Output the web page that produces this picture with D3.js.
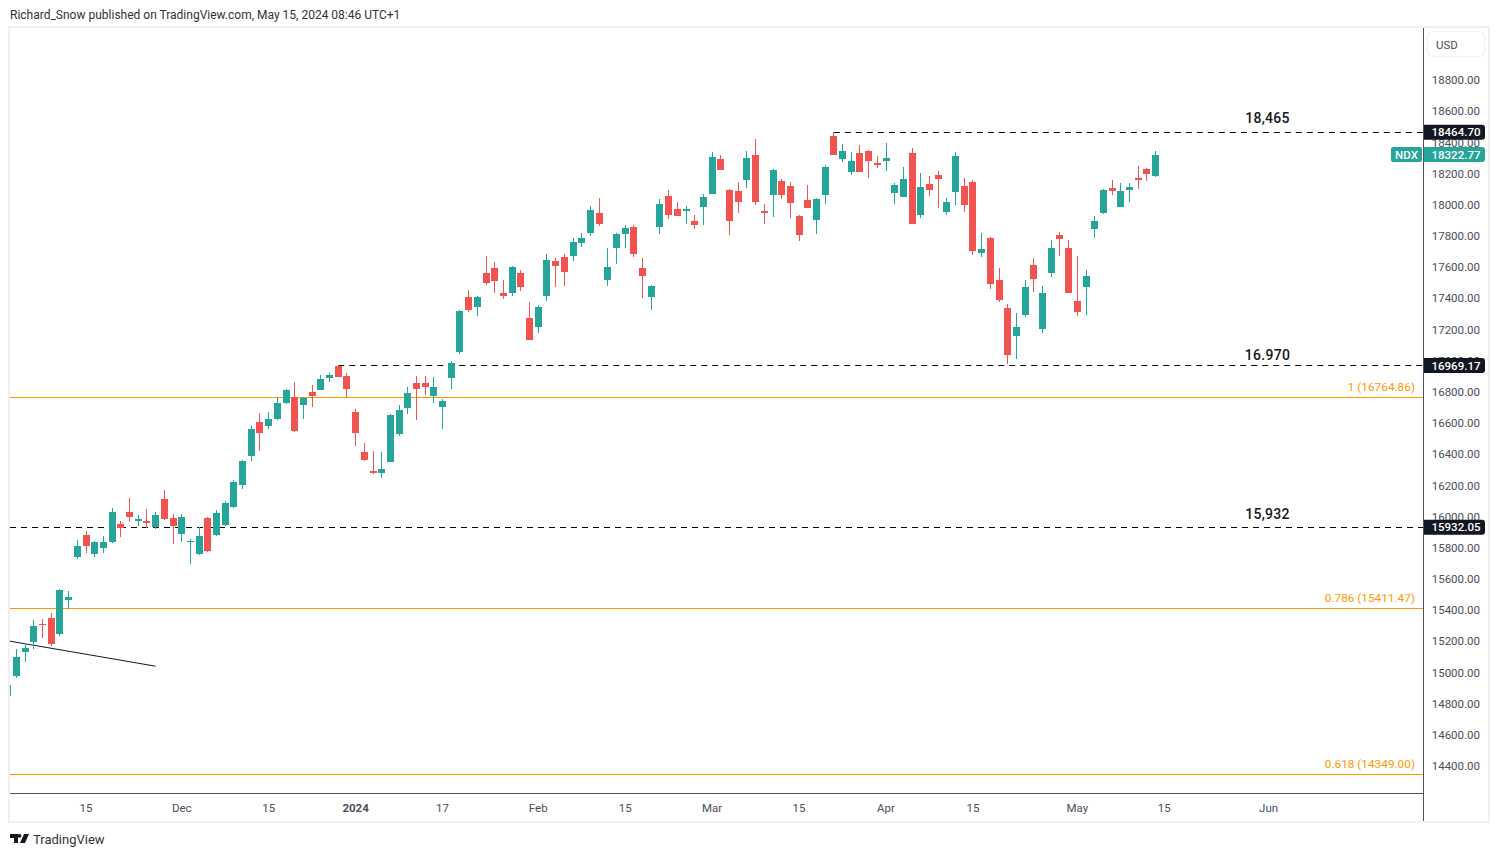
<!DOCTYPE html>
<html>
<head>
<meta charset="utf-8">
<script src="https://cdn.jsdelivr.net/npm/d3@7"></script>
<style>
  html, body { margin: 0; padding: 0; background: #fff; }
  svg { display: block; }
  text { font-family: Roboto, "Noto Sans", sans-serif; }
</style>
</head>
<body>
<div id="chart-area"></div>
<script>
/*
*    NDX daily candles, Nov 2023 - May 2024
*/

// bar number of the first entry; bars are trading days, not calendar days
const firstBar = -1

const opens = [14847,14976,15130,15194,15309,15348,15245,15464,15740,15881,15759,15798,15836,15951,16028,15971,15971,15932,16112,15990,15887,15836,15759,15990,15881,15945,16060,16202,16388,16606,16580,16625,16728,16766,16715,16799,16812,16889,16966,16902,16670,16414,16292,16279,16350,16529,16696,16857,16857,16773,16702,16889,17055,17408,17344,17563,17595,17434,17434,17563,17274,17216,17415,17640,17665,17672,17755,17819,17947,17518,17723,17813,17858,17595,17408,17858,18057,17973,17960,17896,17986,18069,18294,18095,18089,18159,18320,17960,18063,18153,18121,17928,18031,17903,18063,18441,18294,18211,18333,18345,18268,18281,18076,18050,18333,17935,18134,18191,17954,18082,18121,18146,17691,17787,17518,17338,17158,17293,17614,17203,17563,17806,17723,17383,17473,17845,17947,18108,17986,18095,18172,18230,18185]
const highs = [14918,15149,15188,15335,15341,15380,15534,15522,15849,15907,15843,15875,16054,15971,16118,16009,16047,16028,16170,16015,16015,15855,15932,15995,16041,16099,16234,16360,16580,16664,16670,16766,16815,16863,16766,16844,16908,16921,16970,16921,16690,16472,16420,16414,16657,16715,16831,16902,16902,16895,16754,16998,17322,17453,17415,17672,17633,17518,17607,17582,17376,17357,17684,17659,17684,17787,17819,17992,18043,17723,17819,17871,17871,17659,17485,18037,18095,18018,17992,17935,18069,18339,18320,18101,18146,18345,18422,18005,18230,18165,18146,17935,18127,18043,18255,18467,18390,18339,18384,18348,18313,18397,18140,18243,18364,18204,18185,18217,18043,18339,18172,18159,17819,17793,17595,17363,17306,17518,17659,17479,17774,17826,17774,17672,17582,17928,18101,18159,18140,18140,18249,18236,18345]
const lows = [14847,14963,15066,15149,15220,15168,15232,15406,15727,15765,15740,15765,15830,15868,15964,15939,15926,15919,15977,15823,15836,15695,15755,15775,15875,15939,16056,16176,16356,16420,16561,16622,16725,16545,16625,16702,16809,16863,16892,16760,16453,16356,16276,16247,16347,16516,16657,16619,16779,16728,16561,16818,17043,17312,17286,17485,17434,17396,17415,17447,17130,17177,17383,17473,17479,17640,17729,17800,17864,17479,17620,17723,17665,17402,17325,17813,17909,17925,17877,17845,17871,18066,18220,17806,17947,18108,17999,17877,17922,18037,17915,17768,17977,17813,18005,18317,18275,18191,18208,18172,18236,18217,18005,18047,17874,17915,18057,17980,17935,17999,17954,17678,17665,17460,17376,16978,17010,17280,17441,17177,17537,17672,17431,17286,17293,17787,17941,18063,17983,18018,18101,18153,18178]
const closes = [14918,15098,15156,15297,15303,15181,15528,15483,15810,15810,15836,15836,16028,15926,15996,15983,15958,16009,15983,15939,15996,15843,15875,15778,16022,16086,16221,16356,16561,16536,16625,16728,16812,16548,16760,16773,16882,16908,16895,16818,16536,16362,16279,16305,16651,16683,16792,16818,16831,16831,16741,16985,17318,17325,17408,17498,17511,17415,17601,17473,17133,17344,17646,17607,17569,17761,17787,17967,17877,17601,17813,17851,17684,17543,17479,18005,17935,17928,17973,17871,18050,18307,18223,17896,18018,18300,18018,17947,18223,18063,18012,17806,17980,18037,18243,18320,18345,18281,18211,18281,18255,18300,18127,18165,17877,18114,18095,18165,18018,18313,17999,17703,17716,17492,17389,17036,17216,17473,17524,17434,17723,17780,17434,17312,17543,17896,18095,18089,18089,18114,18159,18198,18322]

// price axis
const priceTicks = d3.range(14400, 18801, 200)

// time axis, bar number and label
const timeTickBars = [8, 19, 29, 39, 49, 60, 70, 80, 90, 100, 110, 122, 132, 144]
const timeTickLabels = ["15", "Dec", "15", "2024", "17", "Feb", "15", "Mar", "15", "Apr", "15", "May", "15", "Jun"]

// fibonacci levels
const fibLevels = [16764.86, 15411.47, 14349.00]
const fibLabels = ["1 (16764.86)", "0.786 (15411.47)", "0.618 (14349.00)"]

// support and resistance, starting bar of each dashed line
const srLevels = [18464.70, 16969.17, 15932.05]
const srStartBars = [94, 37, -1]
const srNotes = ["18,465", "16.970", "15,932"]
const srTags = ["18464.70", "16969.17", "15932.05"]

// trend line
const trendBars = [-1, 16]
const trendPrices = [15203, 15040]

const lastPrice = 18322.77
const lastLabel = "18322.77"

const WIDTH = 1499
const HEIGHT = 857
const PLOT = { LEFT: 10, RIGHT: 1423, TOP: 28, BOTTOM: 793 }

// the hand-placed notes sit at different heights above their lines
const NOTE_LIFT = [9.5, 5.5, 8]

const UP = "#26a69a"
const DOWN = "#f05350"
const ORANGE = "#ff9800"
const AXIS_TEXT = "#4a4e59"

const svg = d3.select("#chart-area").append("svg")
  .attr("width", WIDTH)
  .attr("height", HEIGHT)

// Scales
const x = d3.scaleLinear().domain([0, 131]).range([16.5, 1155.6])
const y = d3.scaleLinear().domain([14400, 18800]).range([766, 80])

// Outer frame
svg.append("rect")
  .attr("x", 9).attr("y", 27)
  .attr("width", 1480).attr("height", 795)
  .attr("fill", "none")
  .attr("stroke", "#eef0f5")
  .attr("stroke-width", 2)

svg.append("clipPath").attr("id", "plot-clip").append("rect")
  .attr("x", PLOT.LEFT).attr("y", PLOT.TOP)
  .attr("width", PLOT.RIGHT - PLOT.LEFT).attr("height", PLOT.BOTTOM - PLOT.TOP)

const plot = svg.append("g").attr("clip-path", "url(#plot-clip)")

// Fibonacci levels
plot.selectAll(".fib").data(fibLevels).enter().append("line")
  .attr("class", "fib")
  .attr("x1", PLOT.LEFT).attr("x2", PLOT.RIGHT)
  .attr("y1", d => Math.round(y(d)) + 0.5).attr("y2", d => Math.round(y(d)) + 0.5)
  .attr("stroke", ORANGE)

svg.selectAll(".fib-label").data(fibLevels).enter().append("text")
  .attr("class", "fib-label")
  .attr("x", 1415)
  .attr("y", d => y(d) - 6)
  .attr("text-anchor", "end")
  .attr("font-size", "11.8px")
  .attr("fill", ORANGE)
  .text((d, i) => fibLabels[i])

// Dashed levels
plot.selectAll(".sr").data(srLevels).enter().append("line")
  .attr("class", "sr")
  .attr("x1", (d, i) => i === 2 ? PLOT.LEFT : x(srStartBars[i]))
  .attr("x2", PLOT.RIGHT)
  .attr("y1", d => Math.round(y(d)) + 0.5).attr("y2", d => Math.round(y(d)) + 0.5)
  .attr("stroke", "#000")
  .attr("stroke-dasharray", "6,5")

svg.selectAll(".sr-note").data(srLevels).enter().append("text")
  .attr("class", "sr-note")
  .attr("x", 1267.5)
  .attr("y", (d, i) => y(d) - NOTE_LIFT[i])
  .attr("text-anchor", "middle")
  .attr("font-size", "14px")
  .attr("letter-spacing", "0.3px")
  .attr("font-weight", 500)
  .attr("fill", "#131722")
  .text((d, i) => srNotes[i])

// Trend line
plot.append("line")
  .attr("x1", x(trendBars[0])).attr("y1", y(trendPrices[0]))
  .attr("x2", x(trendBars[1])).attr("y2", y(trendPrices[1]))
  .attr("stroke", "#131722")
  .attr("stroke-width", 1)

// Candles
const bars = opens.map((d, i) => ({
  bar: firstBar + i, open: d, high: highs[i], low: lows[i], close: closes[i]
}))

const candles = plot.selectAll(".candle").data(bars).enter().append("g")
  .attr("class", "candle")
  .attr("fill", d => d.close >= d.open ? UP : DOWN)
  .attr("shape-rendering", "crispEdges")

candles.append("rect")
  .attr("x", d => Math.floor(x(d.bar)))
  .attr("width", 1)
  .attr("y", d => y(d.high))
  .attr("height", d => y(d.low) - y(d.high))

candles.append("rect")
  .attr("x", d => Math.floor(x(d.bar)) - 3)
  .attr("width", 7)
  .attr("y", d => y(Math.max(d.open, d.close)))
  .attr("height", d => Math.max(1, Math.abs(y(d.open) - y(d.close))))

// Axis borders
svg.append("line")
  .attr("x1", PLOT.RIGHT + 0.5).attr("x2", PLOT.RIGHT + 0.5)
  .attr("y1", PLOT.TOP).attr("y2", 821)
  .attr("stroke", "#50535e")
svg.append("line")
  .attr("x1", PLOT.LEFT).attr("x2", PLOT.RIGHT)
  .attr("y1", PLOT.BOTTOM + 0.5).attr("y2", PLOT.BOTTOM + 0.5)
  .attr("stroke", "#50535e")

// Y Axis
const yAxisCall = d3.axisRight(y)
  .tickValues(priceTicks)
  .tickSize(0)
  .tickFormat(d3.format(".2f"))
const yAxis = svg.append("g")
  .attr("transform", `translate(${PLOT.RIGHT}, 0)`)
  .call(yAxisCall)
yAxis.select(".domain").remove()
yAxis.selectAll("text")
  .attr("x", 57)
  .attr("text-anchor", "end")
  .attr("font-size", "11.5px")
  .attr("font-family", "Roboto")
  .attr("fill", AXIS_TEXT)

// X Axis
const xAxisCall = d3.axisBottom(x)
  .tickValues(timeTickBars)
  .tickSize(0)
  .tickFormat((d, i) => timeTickLabels[i])
const xAxis = svg.append("g")
  .attr("transform", `translate(-0.5, ${PLOT.BOTTOM})`)
  .call(xAxisCall)
xAxis.select(".domain").remove()
xAxis.selectAll("text")
  .attr("y", 15)
  .attr("dy", "0.35em")
  .attr("font-size", "11.5px")
  .attr("font-family", "Roboto")
  .attr("font-weight", d => d === 39 ? 700 : 400)
  .attr("fill", AXIS_TEXT)

// Price tags on the axis
function priceTag(price, label, fill) {
  const g = svg.append("g").attr("transform", `translate(${PLOT.RIGHT + 1}, ${y(price)})`)
  g.append("path")
    .attr("d", "M0,-7.5H58a3,3 0 0 1 3,3V4.5a3,3 0 0 1 -3,3H0Z")
    .attr("fill", fill)
  g.append("text")
    .attr("x", 32)
    .attr("dy", "0.36em")
    .attr("text-anchor", "middle")
    .attr("font-size", "11.5px")
    .attr("font-weight", 500)
    .attr("fill", "#fff")
    .text(label)
}
srLevels.forEach((d, i) => priceTag(d, srTags[i], "#131722"))
priceTag(lastPrice, lastLabel, UP)

// NDX symbol tag
svg.append("rect")
  .attr("x", 1391).attr("y", y(lastPrice) - 7.5)
  .attr("width", 31).attr("height", 15)
  .attr("rx", 2)
  .attr("fill", UP)
svg.append("text")
  .attr("x", 1406.5).attr("y", y(lastPrice))
  .attr("dy", "0.36em")
  .attr("text-anchor", "middle")
  .attr("font-size", "11.5px")
  .attr("font-weight", 500)
  .attr("fill", "#fff")
  .text("NDX")

// Currency button
svg.append("rect")
  .attr("x", 1427.5).attr("y", 31.5)
  .attr("width", 57).attr("height", 25)
  .attr("rx", 5)
  .attr("fill", "#fff")
  .attr("stroke", "#eef0f5")
svg.append("text")
  .attr("x", 1447).attr("y", 44.5)
  .attr("dy", "0.36em")
  .attr("text-anchor", "middle")
  .attr("font-size", "11.5px")
  .attr("fill", AXIS_TEXT)
  .text("USD")

// Header and footer
svg.append("text")
  .attr("x", 10).attr("y", 19)
  .attr("font-size", "12px")
  .attr("fill", "#333")
  .text("Richard_Snow published on TradingView.com, May 15, 2024 08:46 UTC+1")

svg.append("path")
  .attr("transform", "translate(10, 834)")
  .attr("d", "M0,0H8V9H4V4H0Z M9.5,0A1.9,1.9 0 1 1 9.49,0Z M14,0H19L15,9H10Z")
  .attr("fill", "#131722")
svg.append("text")
  .attr("x", 33).attr("y", 844)
  .attr("font-size", "13px")
  .attr("fill", "#333")
  .text("TradingView")
</script>
</body>
</html>
